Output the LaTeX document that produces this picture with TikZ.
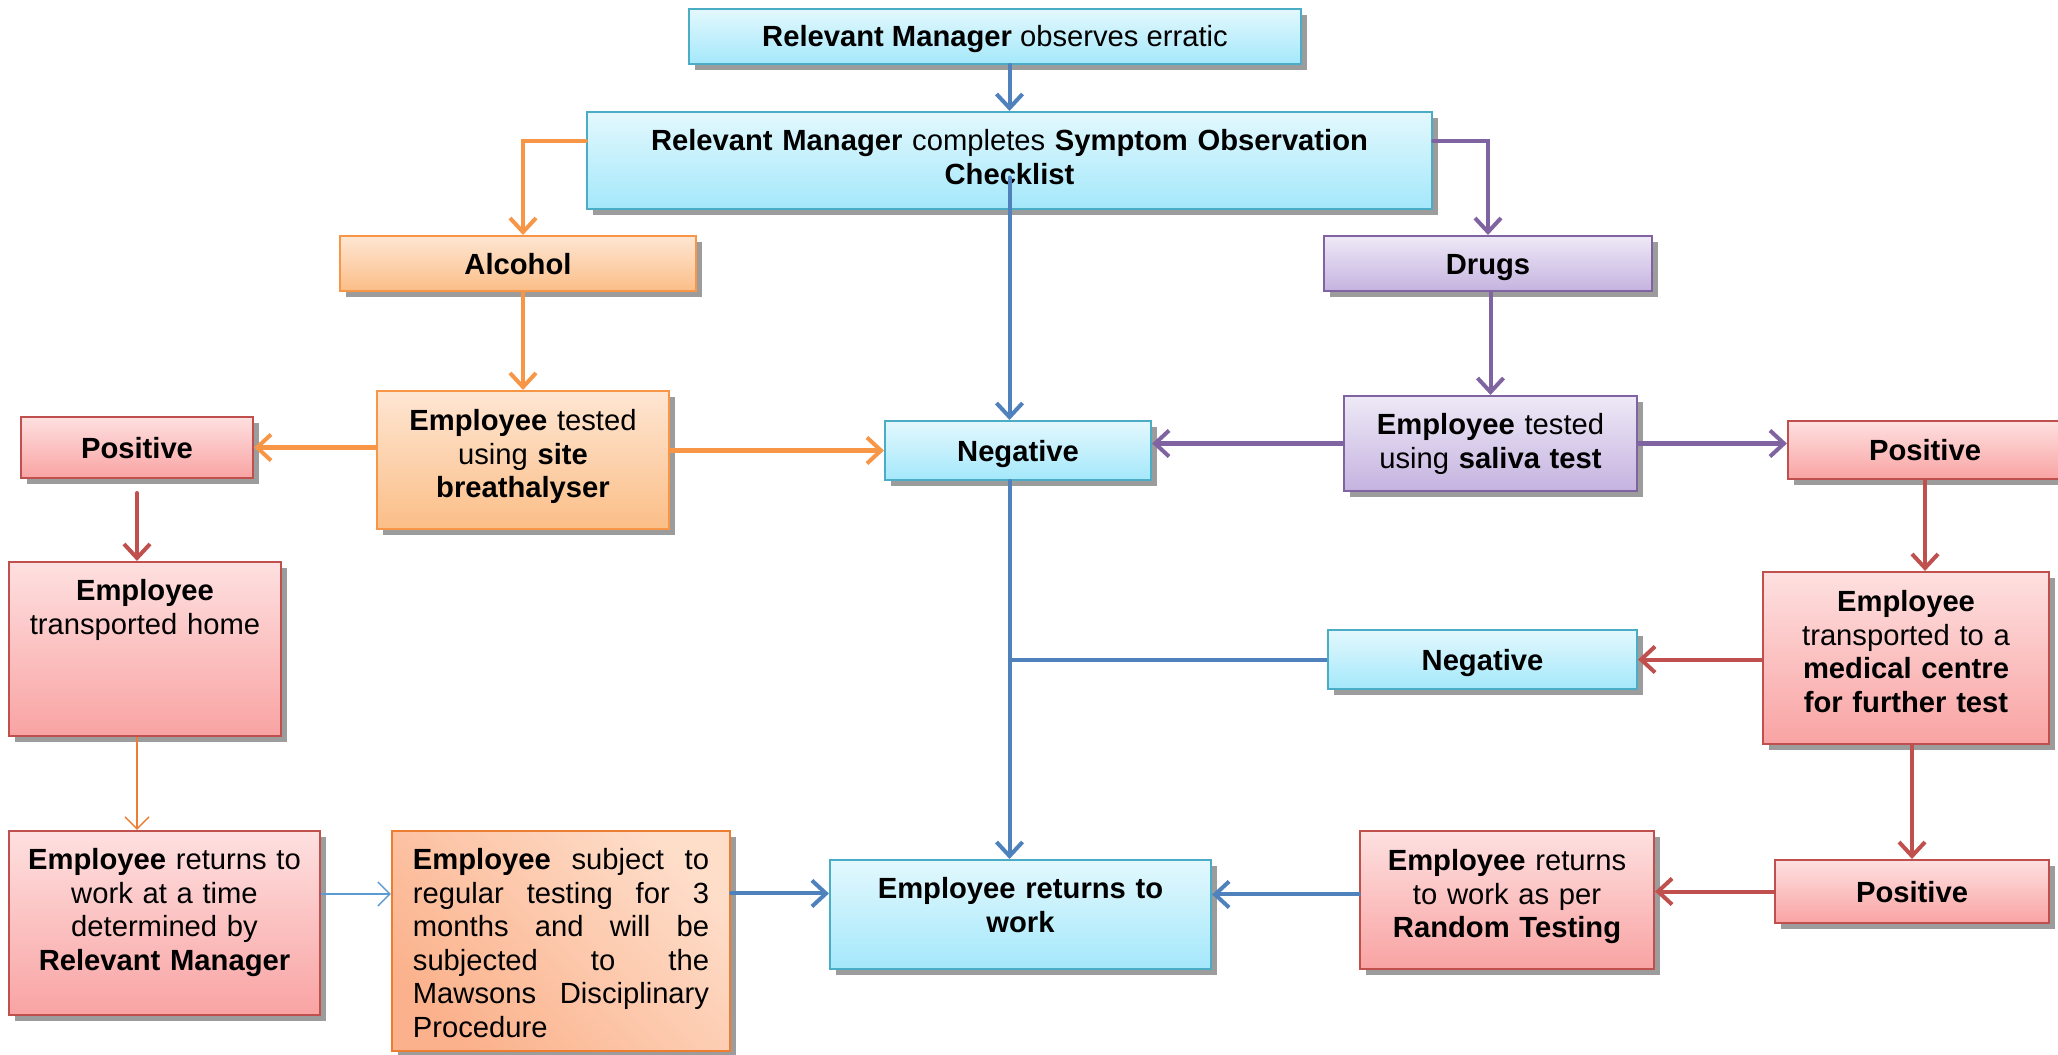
\documentclass[tikz,border=0pt]{standalone}
\usepackage{fontspec}
\setmainfont{Liberation Sans}
\usetikzlibrary{arrows.meta,shadows}
\definecolor{bluetop}{HTML}{E3F8FD}
\definecolor{bluebot}{HTML}{A4E8FB}
\definecolor{blueedge}{HTML}{4BACC6}
\definecolor{orangetop}{HTML}{FEE6D3}
\definecolor{orangebot}{HTML}{FBBE87}
\definecolor{orangeedge}{HTML}{F79646}
\definecolor{purpletop}{HTML}{EEE9F6}
\definecolor{purplebot}{HTML}{C5B3E0}
\definecolor{purpleedge}{HTML}{8064A2}
\definecolor{redtop}{HTML}{FEE0E0}
\definecolor{redbot}{HTML}{F9A3A3}
\definecolor{rededge}{HTML}{C0504D}
\definecolor{peachlight}{HTML}{FEDDC9}
\definecolor{peachdark}{HTML}{FBB28C}
\definecolor{peachedge}{HTML}{ED7D31}
\definecolor{linkblue}{HTML}{4F81BD}
\definecolor{thinblue}{HTML}{5B9BD5}
\definecolor{shadowgray}{HTML}{9C9C9C}
\tikzset{
  box/.style={rectangle, line width=0.2mm, inner sep=0pt, align=center,
    font=\fontsize{8.3pt}{9.5pt}\selectfont,
    drop shadow={shadow xshift=0.6mm, shadow yshift=-0.6mm, fill=shadowgray, opacity=1}},
  bluebox/.style={box, draw=blueedge, top color=bluetop, bottom color=bluebot},
  orangebox/.style={box, draw=orangeedge, top color=orangetop, bottom color=orangebot},
  purplebox/.style={box, draw=purpleedge, top color=purpletop, bottom color=purplebot},
  redbox/.style={box, draw=rededge, top color=redtop, bottom color=redbot},
  peachbox/.style={box, draw=peachedge, top color=peachlight, bottom color=peachdark, shading angle=-45},
  toptext/.style 2 args={text height=#1, text depth=#2},
  oneline/.style={text height=2.1mm, text depth=0pt},
  link/.style={line width=0.4mm, line cap=round, -{Straight Barb[length=1.4mm,width=2.6mm]}},
  thinlink/.style={line width=0.15mm, -{Straight Barb[length=1.2mm,width=2.4mm]}},
}

\begin{document}
\begin{tikzpicture}[x=0.01cm, y=-0.01cm]
\useasboundingbox (0,0) rectangle (2058,1055);

% top of the chart
\node[bluebox, oneline, minimum width=6.12cm, minimum height=5.5mm] (obs) at (995,36.5)
  {\textbf{Relevant Manager} observes erratic};
\node[bluebox, minimum width=8.45cm, text width=8cm, toptext={3.9mm}{5.8mm}] (chk) at (1009.5,160.5)
  {\textbf{Relevant Manager} completes \textbf{Symptom Observation}\\ \textbf{Checklist}};
\node[orangebox, oneline, minimum width=3.56cm, minimum height=5.5mm] (alc) at (518,263.5) {\textbf{Alcohol}};
\node[purplebox, oneline, minimum width=3.28cm, minimum height=5.5mm] (drg) at (1488,263.5) {\textbf{Drugs}};

% tests
\node[orangebox, minimum width=2.92cm, text width=2.8cm, toptext={4mm}{9.8mm}] (alctest) at (523,460)
  {\textbf{Employee} tested\\ using \textbf{site}\\ \textbf{breathalyser}};
\node[purplebox, minimum width=2.93cm, text width=2.8cm, toptext={3.9mm}{5.6mm}] (saltest) at (1490.5,443.5)
  {\textbf{Employee} tested\\ using \textbf{saliva test}};
\node[redbox, oneline, minimum width=2.32cm, minimum height=6.1mm] (poslft) at (137,447.5) {\textbf{Positive}};
\node[bluebox, oneline, minimum width=2.66cm, minimum height=5.9mm] (negctr) at (1018,450.5) {\textbf{Negative}};
\node[redbox, oneline, minimum width=2.74cm, minimum height=5.8mm] (posrgt) at (1925,450) {\textbf{Positive}};

% middle row
\node[redbox, minimum width=2.72cm, text width=2.6cm, toptext={3.9mm}{13.5mm}] (home) at (145,649)
  {\textbf{Employee}\\ transported home};
\node[bluebox, oneline, minimum width=3.09cm, minimum height=5.9mm] (negmid) at (1482.5,659.5) {\textbf{Negative}};
\node[redbox, minimum width=2.86cm, text width=2.7cm, toptext={4mm}{13.2mm}] (medic) at (1906,658)
  {\textbf{Employee}\\ transported to a\\ \textbf{medical centre}\\ \textbf{for further test}};

% bottom row
\node[redbox, minimum width=3.11cm, text width=3cm, toptext={3.9mm}{14.5mm}] (retlft) at (164.5,923)
  {\textbf{Employee} returns to\\ work at a time\\ determined by\\ \textbf{Relevant Manager}};
\node[peachbox, minimum width=3.38cm, text width=2.96cm, align=justify, toptext={3.9mm}{18.1mm}] (subj) at (561,941)
  {\textbf{Employee} subject to\linebreak regular testing for 3\linebreak months and will be\linebreak
   subjected to the\linebreak Mawsons Disciplinary\linebreak Procedure};
\node[bluebox, minimum width=3.81cm, text width=3.6cm, toptext={3.9mm}{7mm}] (retwork) at (1020.5,914.5)
  {\textbf{Employee returns to}\\ \textbf{work}};
\node[redbox, minimum width=2.94cm, text width=2.8cm, toptext={4mm}{9.8mm}] (retrand) at (1507,900)
  {\textbf{Employee} returns\\ to work as per\\ \textbf{Random Testing}};
\node[redbox, oneline, minimum width=2.74cm, minimum height=6.3mm] (posbot) at (1912,891.5) {\textbf{Positive}};

\coordinate (jn) at (chk.center |- negmid.west);

% connectors
\draw[link, linkblue] (obs.south -| chk.north) -- (chk.north);
\draw[link, orangeedge] ([yshift=-3mm]chk.north west) -| (alctest.north |- alc.north);
\draw[link, purpleedge] ([yshift=-3mm]chk.north east) -| (drg.north);
\draw[link, linkblue] ([yshift=-1.7mm]chk.center) -- (chk.center |- negctr.north);
\draw[link, orangeedge] (alctest.north |- alc.south) -- (alctest.north);
\draw[link, orangeedge] (poslft.east -| alctest.west) -- (poslft.east);
\draw[link, orangeedge] (negctr.west -| alctest.east) -- (negctr.west);
\draw[link, purpleedge] (saltest.north |- drg.south) -- (saltest.north);
\draw[link, purpleedge] (saltest.west) -- (saltest.west -| negctr.east);
\draw[link, purpleedge] (saltest.east) -- (saltest.east -| posrgt.west);
\draw[link, rededge] ([yshift=-1.4mm]poslft.south) -- (poslft.south |- home.north);
\draw[thinlink, peachedge] (poslft.south |- home.south) -- (poslft.south |- retlft.north);
\draw[thinlink, thinblue] ([yshift=2.9mm]retlft.east) -- ([yshift=2.9mm]retlft.east -| subj.west);
\draw[link, linkblue] ([yshift=2.1mm]retwork.west -| subj.east) -- ([yshift=2.1mm]retwork.west);
\draw[link, linkblue] (chk.center |- negctr.south) -- (chk.center |- retwork.north);
\draw[line width=0.4mm, linkblue] (negmid.west) -- (jn);
\draw[link, rededge] (posrgt.south) -- (posrgt.south |- medic.north);
\draw[link, rededge] (medic.west |- negmid.east) -- (negmid.east);
\draw[link, rededge] (posbot.north |- medic.south) -- (posbot.north);
\draw[link, rededge] (posbot.west) -- (posbot.west -| retrand.east);
\draw[link, linkblue] ([yshift=2mm]retwork.east -| retrand.west) -- ([yshift=2mm]retwork.east);
\end{tikzpicture}
\end{document}
